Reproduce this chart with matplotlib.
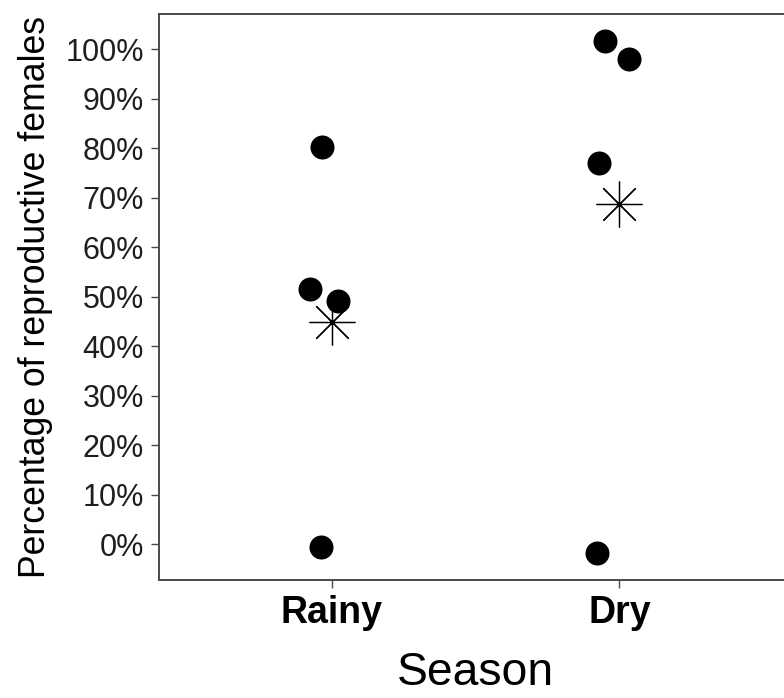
import numpy as np
import matplotlib
matplotlib.use("Agg")
import matplotlib.pyplot as plt
from matplotlib.ticker import PercentFormatter

plt.rcParams['font.family'] = ['Liberation Sans', 'DejaVu Sans']

# data (percent), points are jittered
seasons = ["Rainy", "Dry"]
rainy_values = [80.3, 51.5, 49.2, -0.6]
rainy_jitter = [-0.033, -0.075, 0.023, -0.038]
dry_values = [101.7, 98.0, 77.1, -1.8]
dry_jitter = [-0.051, 0.032, -0.072, -0.079]
season_means = [44.85, 68.75]
yticks = list(range(0, 101, 10))

fig = plt.figure(figsize=(7.84, 6.98), dpi=100)
ax = fig.add_axes([0.2032, 0.1691, 0.8070, 0.8108])

border = '#4a4a4a'
for i, (vals, jit) in enumerate([(rainy_values, rainy_jitter), (dry_values, dry_jitter)]):
    xs = np.full(len(vals), i + 1.0) + np.array(jit)
    ax.plot(xs, vals, 'o', color='black', markersize=17.3, markeredgewidth=0, linestyle='none')

ax.plot(np.arange(1, len(seasons) + 1), season_means, marker=(8, 2, 0), color='black',
        markersize=33, markeredgewidth=0.9, linestyle='none')

ax.set_xlim(0.4, 2.6)
ax.set_ylim(-7.2, 107.1)
ax.set_xticks([1, 2])
ax.set_xticklabels(seasons, fontsize=27, fontweight='bold', color='black')
ax.set_yticks(yticks)
ax.yaxis.set_major_formatter(PercentFormatter(decimals=0))
ax.tick_params(axis='y', labelsize=22, labelcolor='#1e1e1e', length=6, width=1, color=border, pad=5)
ax.tick_params(axis='x', length=6, width=1, color=border, pad=5)

for side in ['left', 'right', 'top', 'bottom']:
    ax.spines[side].set_color(border)
    ax.spines[side].set_linewidth(1.4)

ax.set_xlabel("Season", fontsize=33.3, color='black', labelpad=14)
ax.set_ylabel("Percentage of reproductive females", fontsize=25.7, color='black', labelpad=9)

fig.savefig("out.png", dpi=100)
